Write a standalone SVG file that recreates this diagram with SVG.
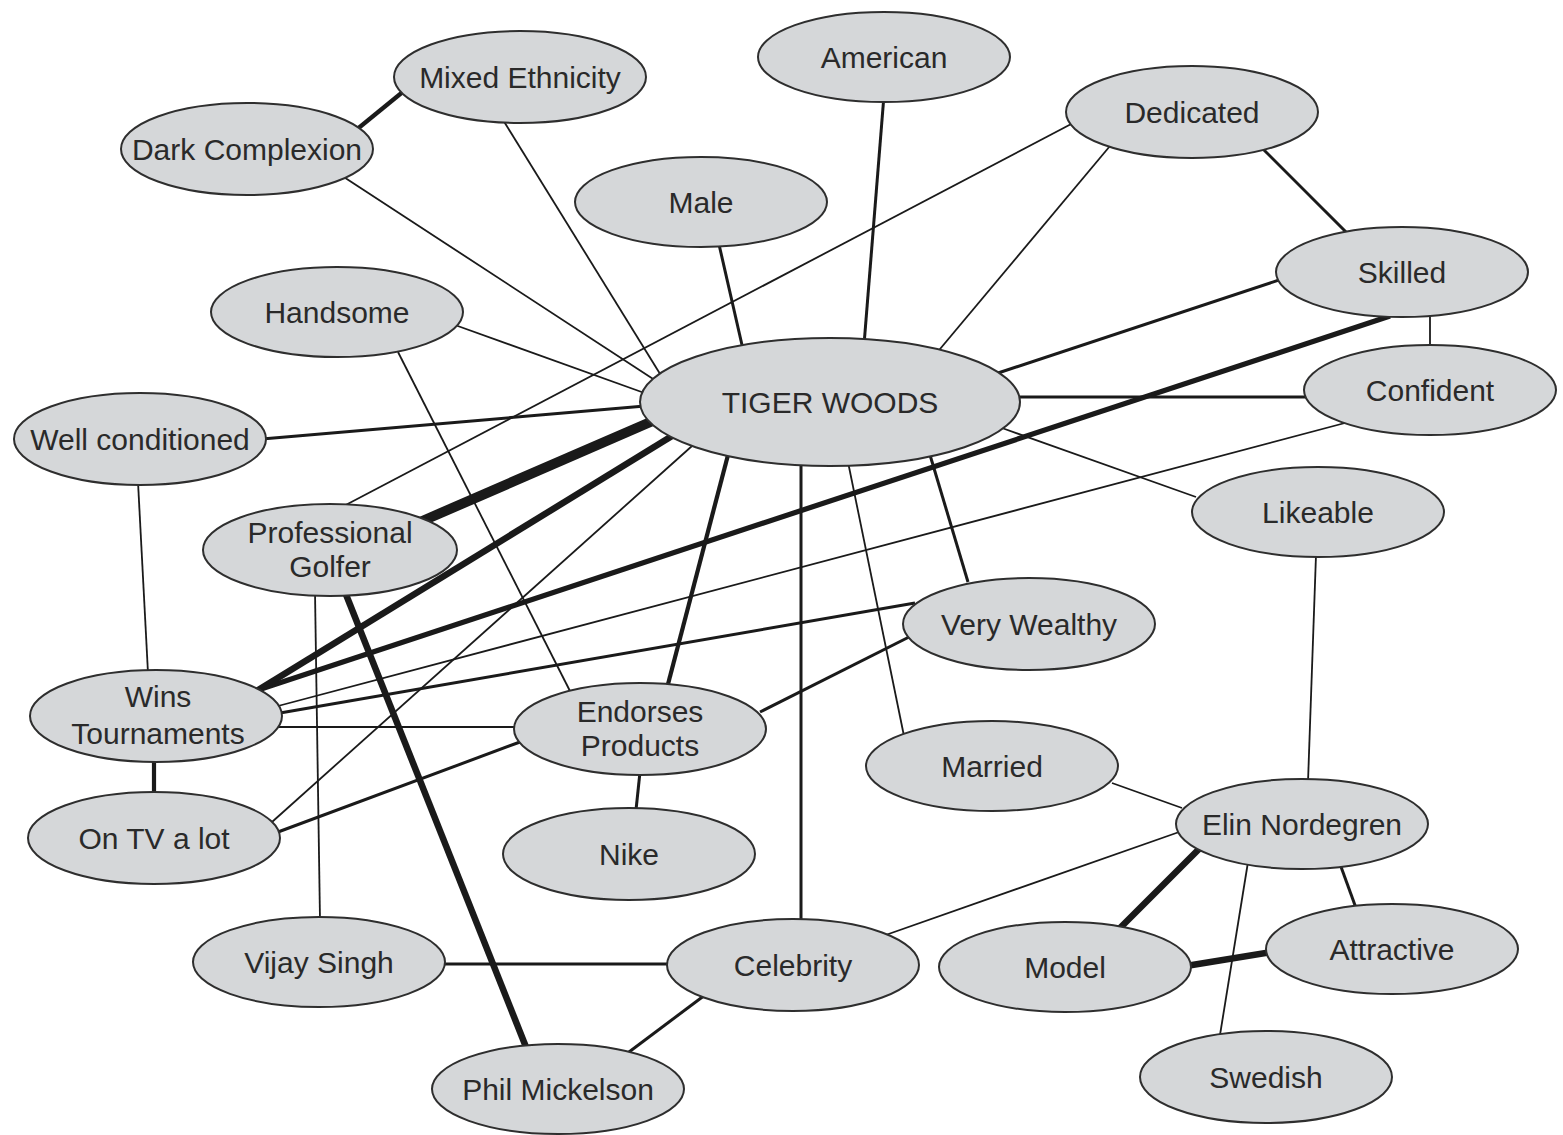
<svg xmlns="http://www.w3.org/2000/svg" width="1563" height="1135" viewBox="0 0 1563 1135">
<style>
.n ellipse{fill:#d5d7d9;stroke:#2e2e2e;stroke-width:2}
.n text{font-family:"Liberation Sans",Arial,sans-serif;font-size:30px;fill:#2a2a2a;text-anchor:middle}
#edges line{stroke:#1a1a1a;stroke-linecap:butt}
.t{stroke-width:1.8}.m{stroke-width:3}.k{stroke-width:4.2}.s{stroke-width:5.2}.h{stroke-width:6.5}.x{stroke-width:10}
</style>
<rect width="1563" height="1135" fill="#ffffff"/>
<g id="edges">
<line class="k" x1="350" y1="135" x2="410" y2="86"/>
<line class="t" x1="330" y1="168" x2="670" y2="390"/>
<line class="t" x1="500" y1="115" x2="670" y2="390"/>
<line class="m" x1="884" y1="95" x2="864" y2="345"/>
<line class="m" x1="718" y1="240" x2="742" y2="345"/>
<line class="t" x1="1115" y1="140" x2="935" y2="355"/>
<line class="t" x1="1075" y1="122" x2="340" y2="508"/>
<line class="m" x1="1262" y1="148" x2="1350" y2="236"/>
<line class="t" x1="455" y1="325" x2="650" y2="395"/>
<line class="t" x1="398" y1="352" x2="572" y2="695"/>
<line class="m" x1="1285" y1="278" x2="995" y2="374"/>
<line class="s" x1="1390" y1="316" x2="258" y2="690"/>
<line class="t" x1="1430" y1="315" x2="1430" y2="348"/>
<line class="m" x1="1015" y1="397" x2="1310" y2="397"/>
<line class="t" x1="1360" y1="419" x2="278" y2="706"/>
<line class="m" x1="262" y1="439" x2="645" y2="406"/>
<line class="t" x1="138" y1="482" x2="148" y2="673"/>
<line class="x" x1="655" y1="420" x2="420" y2="522"/>
<line class="h" x1="672" y1="436" x2="255" y2="692"/>
<line class="t" x1="692" y1="446" x2="272" y2="822"/>
<line class="k" x1="728" y1="455" x2="667" y2="688"/>
<line class="m" x1="801" y1="462" x2="801" y2="922"/>
<line class="t" x1="848" y1="462" x2="904" y2="736"/>
<line class="m" x1="930" y1="455" x2="968" y2="582"/>
<line class="t" x1="1002" y1="428" x2="1196" y2="497"/>
<line class="t" x1="1316" y1="555" x2="1308" y2="782"/>
<line class="m" x1="915" y1="603" x2="280" y2="713"/>
<line class="m" x1="915" y1="634" x2="760" y2="712"/>
<line class="t" x1="278" y1="727" x2="518" y2="727"/>
<line class="k" x1="154" y1="758" x2="154" y2="796"/>
<line class="m" x1="520" y1="742" x2="278" y2="832"/>
<line class="m" x1="640" y1="772" x2="636" y2="810"/>
<line class="t" x1="315" y1="592" x2="320" y2="920"/>
<line class="h" x1="345" y1="592" x2="526" y2="1047"/>
<line class="m" x1="443" y1="964" x2="670" y2="964"/>
<line class="m" x1="705" y1="995" x2="625" y2="1055"/>
<line class="t" x1="880" y1="937" x2="1182" y2="831"/>
<line class="t" x1="1112" y1="783" x2="1182" y2="808"/>
<line class="h" x1="1200" y1="848" x2="1120" y2="928"/>
<line class="m" x1="1340" y1="864" x2="1356" y2="908"/>
<line class="t" x1="1248" y1="862" x2="1220" y2="1035"/>
<line class="h" x1="1186" y1="966" x2="1272" y2="952"/>
</g>
<g id="mixed-ethnicity" class="n"><ellipse cx="520" cy="77" rx="126" ry="46"/><text x="520" y="88">Mixed Ethnicity</text></g>
<g id="dark-complexion" class="n"><ellipse cx="247" cy="149" rx="126" ry="46"/><text x="247" y="160">Dark Complexion</text></g>
<g id="american" class="n"><ellipse cx="884" cy="57" rx="126" ry="45"/><text x="884" y="68">American</text></g>
<g id="dedicated" class="n"><ellipse cx="1192" cy="112" rx="126" ry="46"/><text x="1192" y="123">Dedicated</text></g>
<g id="male" class="n"><ellipse cx="701" cy="202" rx="126" ry="45"/><text x="701" y="213">Male</text></g>
<g id="handsome" class="n"><ellipse cx="337" cy="312" rx="126" ry="45"/><text x="337" y="323">Handsome</text></g>
<g id="skilled" class="n"><ellipse cx="1402" cy="272" rx="126" ry="45"/><text x="1402" y="283">Skilled</text></g>
<g id="tiger-woods" class="n"><ellipse cx="830" cy="402" rx="190" ry="64"/><text x="830" y="413">TIGER WOODS</text></g>
<g id="confident" class="n"><ellipse cx="1430" cy="390" rx="126" ry="45"/><text x="1430" y="401">Confident</text></g>
<g id="well-conditioned" class="n"><ellipse cx="140" cy="439" rx="126" ry="46"/><text x="140" y="450">Well conditioned</text></g>
<g id="likeable" class="n"><ellipse cx="1318" cy="512" rx="126" ry="45"/><text x="1318" y="523">Likeable</text></g>
<g id="professional-golfer" class="n"><ellipse cx="330" cy="550" rx="127" ry="46"/><text x="330" y="543">Professional</text><text x="330" y="577">Golfer</text></g>
<g id="very-wealthy" class="n"><ellipse cx="1029" cy="624" rx="126" ry="46"/><text x="1029" y="635">Very Wealthy</text></g>
<g id="wins-tournaments" class="n"><ellipse cx="156" cy="716" rx="126" ry="46"/><text x="158" y="707">Wins</text><text x="158" y="744">Tournaments</text></g>
<g id="endorses-products" class="n"><ellipse cx="640" cy="729" rx="126" ry="46"/><text x="640" y="722">Endorses</text><text x="640" y="756">Products</text></g>
<g id="married" class="n"><ellipse cx="992" cy="766" rx="126" ry="45"/><text x="992" y="777">Married</text></g>
<g id="elin-nordegren" class="n"><ellipse cx="1302" cy="824" rx="126" ry="45"/><text x="1302" y="835">Elin Nordegren</text></g>
<g id="on-tv-a-lot" class="n"><ellipse cx="154" cy="838" rx="126" ry="46"/><text x="154" y="849">On TV a lot</text></g>
<g id="nike" class="n"><ellipse cx="629" cy="854" rx="126" ry="46"/><text x="629" y="865">Nike</text></g>
<g id="vijay-singh" class="n"><ellipse cx="319" cy="962" rx="126" ry="45"/><text x="319" y="973">Vijay Singh</text></g>
<g id="celebrity" class="n"><ellipse cx="793" cy="965" rx="126" ry="46"/><text x="793" y="976">Celebrity</text></g>
<g id="model" class="n"><ellipse cx="1065" cy="967" rx="126" ry="45"/><text x="1065" y="978">Model</text></g>
<g id="attractive" class="n"><ellipse cx="1392" cy="949" rx="126" ry="45"/><text x="1392" y="960">Attractive</text></g>
<g id="swedish" class="n"><ellipse cx="1266" cy="1077" rx="126" ry="46"/><text x="1266" y="1088">Swedish</text></g>
<g id="phil-mickelson" class="n"><ellipse cx="558" cy="1089" rx="126" ry="45"/><text x="558" y="1100">Phil Mickelson</text></g>
</svg>
